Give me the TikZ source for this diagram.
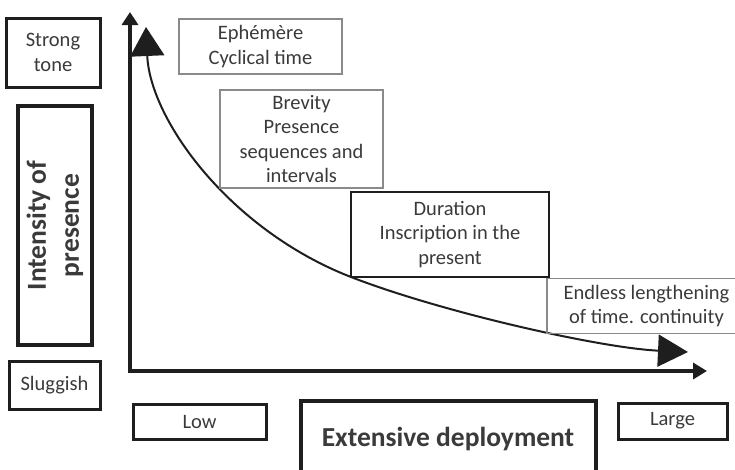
\documentclass[tikz,border=0pt]{standalone}
\usepackage{fontspec}
\setmainfont{Carlito}
\usetikzlibrary{arrows.meta}
\definecolor{ink}{HTML}{1E1E1E}
\definecolor{txt}{HTML}{3A3A3A}
\definecolor{thinc}{HTML}{8A8A8A}
\tikzset{
 lbl/.style={font=\fontsize{20.5}{24.5}\selectfont, text=txt, align=center, inner sep=0pt},
 thinbox/.style={lbl, draw=thinc, line width=1.2pt},
 midbox/.style={lbl, draw=ink, line width=3pt},
 durbox/.style={lbl, draw=ink, line width=2.2pt},
 bigbox/.style={draw=ink, line width=4pt, font=\fontsize{27.5}{33}\selectfont\bfseries, text=txt, align=center, inner sep=0pt},
 axis/.style={draw=ink, line width=4pt, line join=miter, {Triangle[length=13pt,width=16pt]}-{Triangle[length=14pt,width=16pt]}},
 curve/.style={draw=ink, line width=2pt, {Triangle[length=29pt,width=34pt]}-{Triangle[length=30pt,width=32pt]}},
}
\begin{document}
\begin{tikzpicture}[x=1pt,y=-1pt]
\useasboundingbox (0,0) rectangle (735,469);
\clip (0,0) rectangle (735,469);
% axes
\coordinate (ytip) at (130,12);
\coordinate (origin) at (130,371);
\coordinate (xtip) at (707,371);
\draw[axis] (ytip) -- (origin) -- (xtip);
% curve
\coordinate (ctop) at (146,27);
\coordinate (cmid) at (351,277);
\coordinate (cend) at (688,352);
\draw[curve] (ctop) .. controls (150,120) and (230,230) .. (cmid) .. controls (441,312) and (600,348) .. (cend);
% left labels
\node[midbox, minimum width=94pt, minimum height=69pt] (strong) at (53,52.5) {Strong\\tone};
\node[bigbox, rotate=90, minimum width=239pt, minimum height=74pt] (intens) at (55,225.5) {Intensity of\\presence};
\node[midbox, minimum width=91pt, minimum height=48pt] (slug) at (54.5,385) {Sluggish};
% bottom labels
\node[midbox, minimum width=133pt, minimum height=35pt] (low) at (199.5,421.5) {Low};
\node[bigbox, anchor=north, minimum width=295pt, minimum height=90pt, text height=27pt, text depth=27pt] (ext) at (448,399) {Extensive deployment};
\node[midbox, minimum width=109pt, minimum height=36pt] (large) at (672.5,421) {Large};
% stage labels
\node[thinbox, minimum width=163pt, minimum height=55pt] (eph) at (260.5,46.5) {Ephémère\\Cyclical time};
\node[thinbox, minimum width=163pt, minimum height=98pt] (brev) at (301.5,139) {Brevity\\Presence\\sequences and\\intervals};
\node[durbox, minimum width=198pt, minimum height=85pt] (dur) at (450,234.5) {Duration\\Inscription in the\\present};
\node[thinbox, minimum width=199pt, minimum height=55pt] (endl) at (646.5,306) {Endless lengthening\\of time. continuity};
\end{tikzpicture}
\end{document}
